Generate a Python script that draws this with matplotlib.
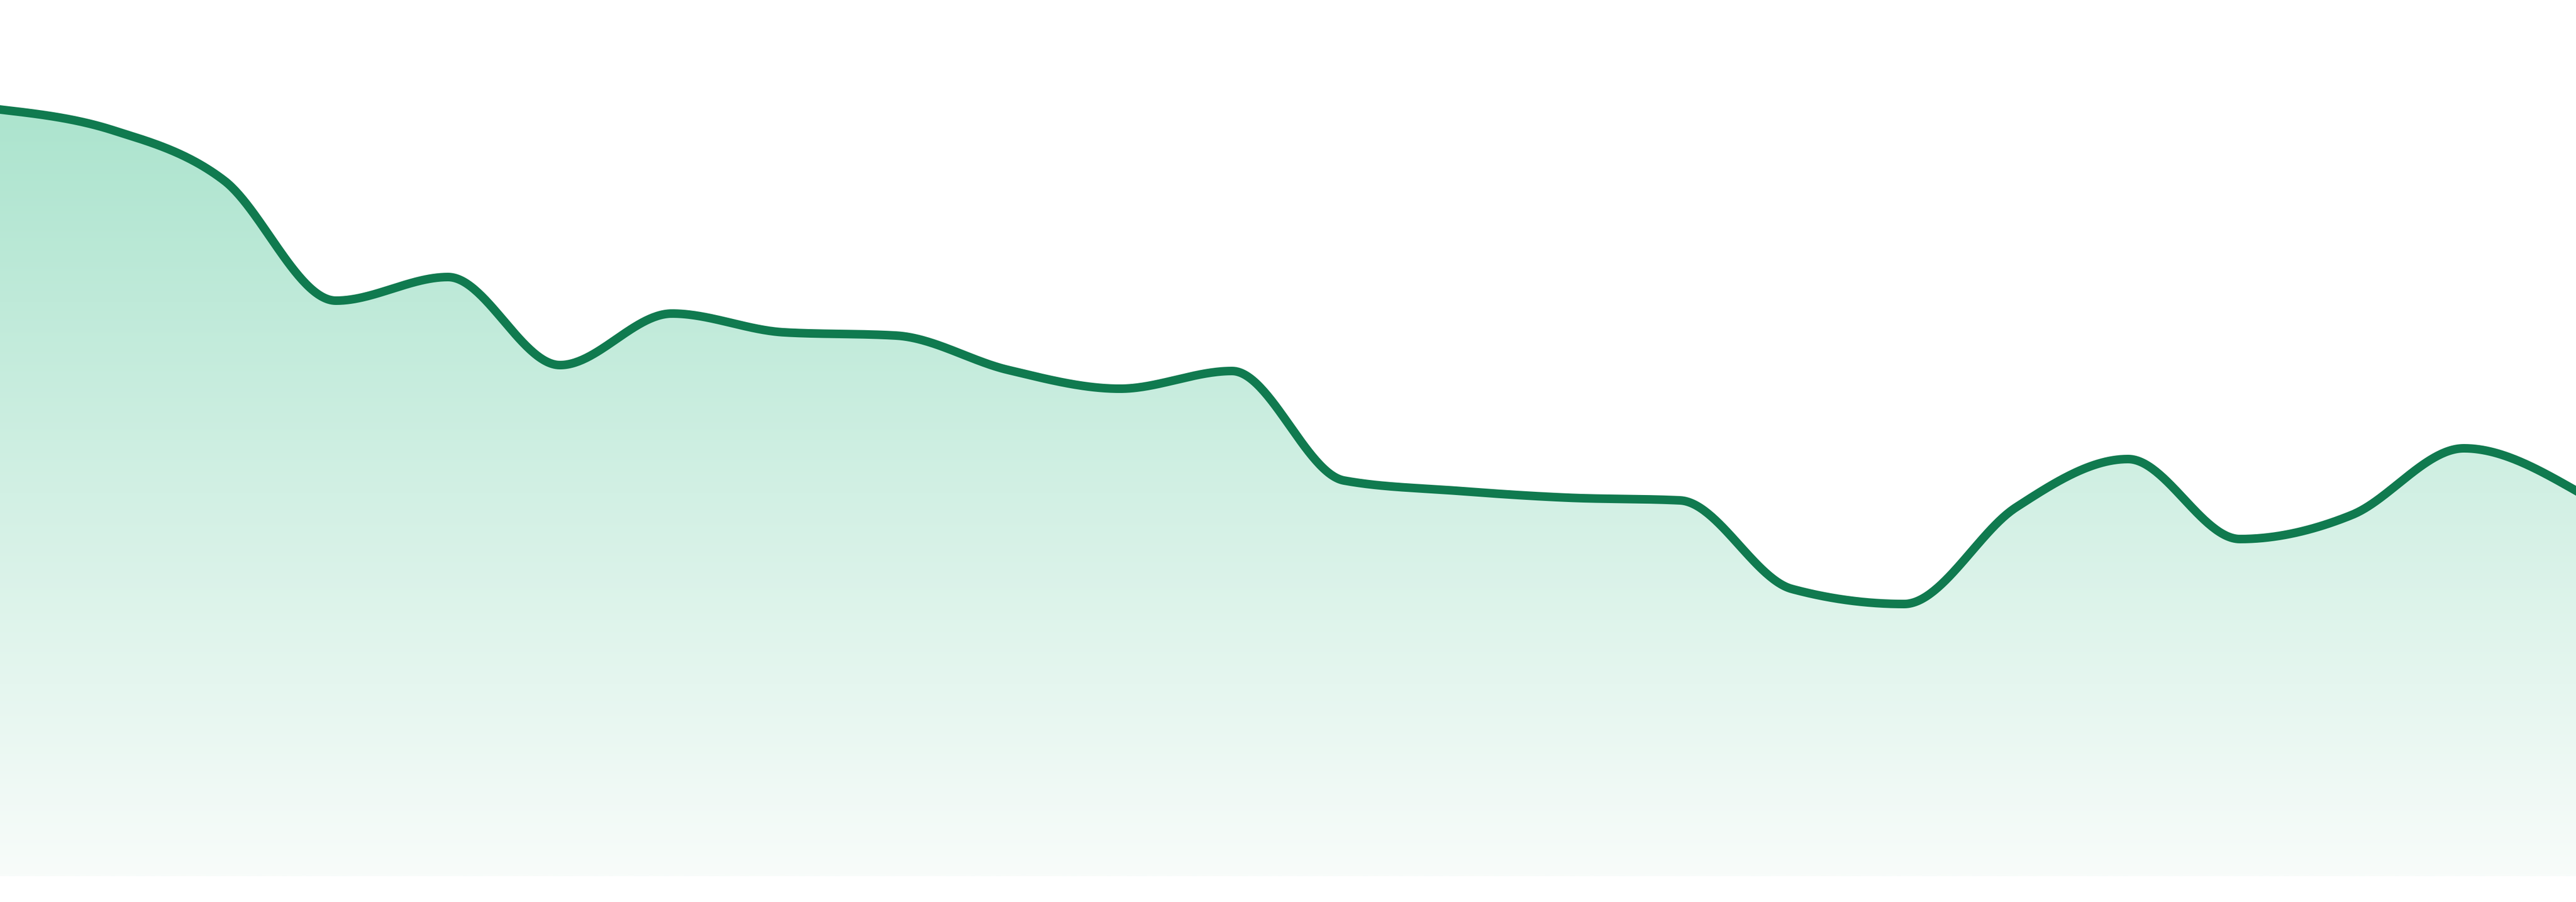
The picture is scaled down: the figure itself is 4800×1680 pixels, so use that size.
import numpy as np
import matplotlib
matplotlib.use("Agg")
import matplotlib.pyplot as plt
from matplotlib.patches import Polygon

# data (24 evenly spaced points)
idx = list(range(24))
values = [142.8, 139.0, 129.6, 107.2, 111.6, 95.2, 104.8, 101.3,
          100.7, 94.3, 90.8, 94.1, 73.7, 71.8, 70.5, 70.0,
          53.5, 50.7, 68.7, 77.7, 62.8, 67.3, 79.7, 71.8]

LINE = "#107a4f"
TOP = np.array([172, 228, 206]) / 255
BOTTOM = np.array([248, 252, 250]) / 255


def monotone_x(x, y, steps=60):
    # same curve as d3.curveMonotoneX
    x = np.asarray(x, float)
    y = np.asarray(y, float)
    h = np.diff(x)
    s = np.diff(y) / h
    m = np.zeros_like(y)
    for i in range(1, len(y) - 1):
        s0, s1 = s[i - 1], s[i]
        p = (s0 * h[i] + s1 * h[i - 1]) / (h[i - 1] + h[i])
        m[i] = (np.sign(s0) + np.sign(s1)) * min(abs(s0), abs(s1), 0.5 * abs(p))
    m[0] = (3 * s[0] - m[1]) / 2
    m[-1] = (3 * s[-1] - m[-2]) / 2
    xs, ys = [], []
    t = np.linspace(0, 1, steps, endpoint=False)
    for i in range(len(y) - 1):
        h00 = 2 * t**3 - 3 * t**2 + 1
        h10 = t**3 - 2 * t**2 + t
        h01 = -2 * t**3 + 3 * t**2
        h11 = t**3 - t**2
        xs.append(x[i] + t * h[i])
        ys.append(h00 * y[i] + h10 * h[i] * m[i] + h01 * y[i + 1] + h11 * h[i] * m[i + 1])
    xs.append([x[-1]])
    ys.append([y[-1]])
    return np.concatenate(xs), np.concatenate(ys)


xs, ys = monotone_x(idx, values)

fig = plt.figure(figsize=(48, 16.8), dpi=100)
ax = fig.add_axes([0, 48 / 1680, 1, 1632 / 1680])
ax.set_xlim(idx[0], idx[-1])
ax.set_ylim(0, 163.2)
ax.axis("off")

# gradient fill under the curve
top = max(values)
frac = np.linspace(0, 1, 256)[:, None]
grad = TOP[None, :] * (1 - frac) + BOTTOM[None, :] * frac
grad = np.repeat(grad[:, None, :], 2, axis=1)
im = ax.imshow(grad, extent=[idx[0], idx[-1], 0, top], aspect="auto",
               origin="upper", interpolation="bilinear", zorder=1)
verts = np.column_stack([np.r_[xs, xs[-1], xs[0]], np.r_[ys, 0, 0]])
poly = Polygon(verts, closed=True, facecolor="none", edgecolor="none")
ax.add_patch(poly)
im.set_clip_path(poly)

ax.plot(xs, ys, color=LINE, lw=11.5, solid_joinstyle="round", zorder=2)

fig.savefig("out.png", dpi=100, facecolor="white")
